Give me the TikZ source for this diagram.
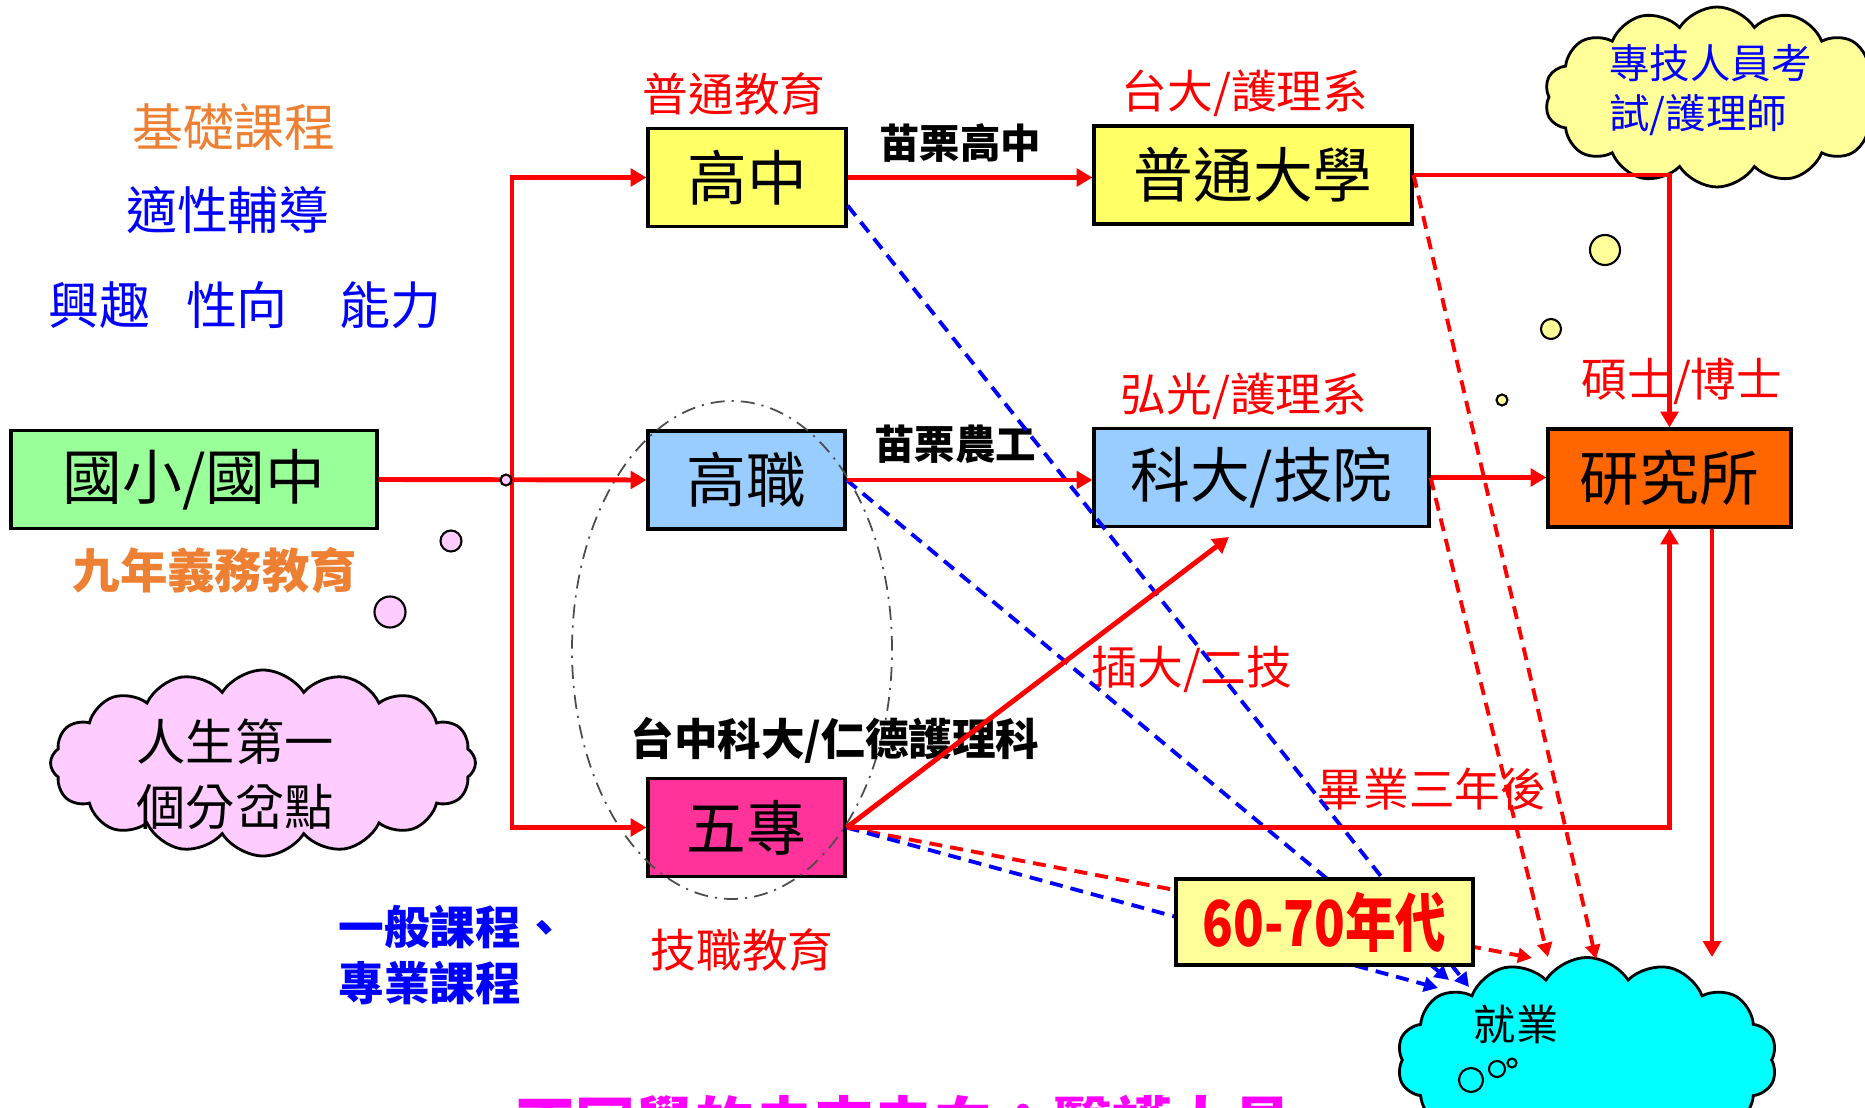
\documentclass[tikz,border=0pt]{standalone}
\usepackage{fontspec}
\usepackage{graphicx}
\setmainfont{Noto Sans CJK TC}
\usetikzlibrary{arrows.meta,shapes.geometric,shapes.symbols,calc}
\definecolor{boxyellow}{HTML}{FFFF66}
\definecolor{paleyellow}{HTML}{FFFF99}
\definecolor{boxblue}{HTML}{99CCFF}
\definecolor{boxgreen}{HTML}{99FF99}
\definecolor{boxpink}{HTML}{FF3399}
\definecolor{boxorange}{HTML}{FF6600}
\definecolor{cloudpink}{HTML}{FFCCFF}
\definecolor{cloudcyan}{HTML}{00FFFF}
\definecolor{txtorange}{HTML}{EE8033}
\definecolor{txtmagenta}{HTML}{FF00FF}
\newcommand{\fsz}[2]{\fontsize{#1}{#2}\selectfont}

\begin{document}
\begin{tikzpicture}[x=0.1mm, y=-0.1mm,
  box/.style={draw=black, line width=0.9pt, minimum width=#1, minimum height=9.8mm, inner sep=0pt, font=\fsz{17pt}{20pt}},
  redarr/.style={draw=red, line width=1.4pt, -{Triangle[length=4.5pt,width=5pt]}},
  reddash/.style={draw=red, line width=1.1pt, dash pattern=on 3.7pt off 2.3pt, -{Triangle[length=4pt,width=4.2pt]}},
  bluedash/.style={reddash, draw=blue},
  redlabel/.style={text=red, font=\fsz{13pt}{15pt}},
  blacklabel/.style={font=\bfseries\fsz{11.5pt}{13pt}},
  bubble/.style={draw=black, line width=0.6pt, circle, inner sep=0pt},
  puffy/.style={cloud, cloud puffs=#1, cloud puff arc=115, cloud ignores aspect, draw=black, line width=0.8pt}]
  \clip (0,0) rectangle (1865,1108);

  \node[puffy=16, fill=cloudpink, minimum width=42.5mm, minimum height=18.6mm] (lifecloud) at (263,763) {};
  \node[puffy=14, fill=paleyellow, minimum width=34.5mm, minimum height=18mm] (examcloud) at (1717,97) {};
  \node[puffy=14, fill=cloudcyan, minimum width=38mm, minimum height=20.5mm] (jobcloud) at (1587,1060) {};

  \node[bubble, fill=cloudpink, minimum size=2.1mm] (pb1) at (451,541) {};
  \node[bubble, fill=cloudpink, minimum size=3.1mm] (pb2) at (390,612) {};
  \node[bubble, fill=paleyellow, minimum size=3mm] (yb1) at (1605,250) {};
  \node[bubble, fill=paleyellow, minimum size=2mm] (yb2) at (1551,329) {};
  \node[bubble, fill=paleyellow, minimum size=1.1mm] (yb3) at (1502,400) {};
  \node[bubble, fill=cloudcyan, minimum size=2.4mm] (cb1) at (1471,1080) {};
  \node[bubble, fill=cloudcyan, minimum size=1.6mm] (cb2) at (1497,1069) {};
  \node[bubble, fill=cloudcyan, minimum size=0.9mm] (cb3) at (1512,1063) {};

  \node[box=36.6mm, fill=boxgreen] (guozhong) at (194,479.5) {國小/國中};
  \node[box=19.8mm, fill=boxyellow] (gaozhong) at (747,177.5) {高中};
  \node[box=19.7mm, fill=boxblue] (gaozhi) at (746.5,480) {高職};
  \node[box=19.7mm, fill=boxpink] (wuzhuan) at (746.5,827.5) {五專};
  \node[box=31.8mm, fill=boxyellow] (daxue) at (1253,175) {普通大學};
  \node[box=33.5mm, fill=boxblue] (keda) at (1261.5,477.5) {科大/技院};
  \node[box=24.3mm, fill=boxorange] (yanjiu) at (1669.5,478) {研究所};

  \node[ellipse, draw=gray!60!black, line width=0.5pt, dash pattern=on 4pt off 2pt on 0.6pt off 2pt, minimum width=32mm, minimum height=49.8mm] (jizhioval) at (732,650) {};

  \node[text=txtorange, font=\fsz{14.5pt}{17pt}] (jichu) at (234,127) {基礎課程};
  \node[text=blue, font=\fsz{14.5pt}{17pt}] (fudao) at (228,210) {適性輔導};
  \node[text=blue, font=\fsz{14.5pt}{17pt}] (xingqu) at (245,305) {興趣\hspace{3.6mm}性向\hspace{5.2mm}能力};
  \node[text=txtorange, font=\bfseries\fsz{13.5pt}{16pt}] (yiwu) at (215,570) {九年義務教育};
  \node[font=\fsz{14pt}{18.5pt}, align=left] (fencha) at (235,774) {人生第一\\個分岔點};
  \node[text=blue, font=\fsz{11.5pt}{14.2pt}, align=left, anchor=west] (zhuanji) at (1597,90) {專技人員考\\試/護理師};
  \node[font=\fsz{12pt}{14pt}] (jiuye) at (1516,1024) {就業};
  \node[text=blue, font=\bfseries\fsz{13pt}{16.2pt}, align=left, anchor=west] (kecheng) at (326,955) {一般課程、\\專業課程};

  \node[redlabel] (putong) at (734,94) {普通教育};
  \node[redlabel] (taida) at (1245,93) {台大/護理系};
  \node[redlabel] (hongguang) at (1244,396) {弘光/護理系};
  \node[redlabel] (shuoshi) at (1682,381) {碩士/博士};
  \node[redlabel] (chadalbl) at (1192,669) {插大/二技};
  \node[redlabel] (biye) at (1432,789) {畢業三年後};
  \node[redlabel] (jizhi) at (742,950) {技職教育};
  \node[blacklabel] (miaoli) at (960,143) {苗栗高中};
  \node[blacklabel] (nonggong) at (955,444) {苗栗農工};
  \node[blacklabel, font=\bfseries\fsz{12.4pt}{15pt}] (taizhong) at (835,740) {台中科大/仁德護理科};

  \coordinate (split) at (512,480);
  \coordinate (chada) at (1229,537);
  \coordinate (jy1) at (1438,988);
  \coordinate (jy2) at (1449,980);
  \coordinate (jy3) at (1469,987);
  \coordinate (jy4) at (1532,958);
  \coordinate (jy5) at (1548,957);
  \coordinate (jy6) at (1596,959);
  \coordinate (jy7) at (1712,957);

  \draw[reddash] (daxue.east) -- (jy6);
  \draw[reddash] (keda.east) -- (jy5);
  \draw[reddash] (wuzhuan.east) -- (jy4);
  \draw[bluedash] ($(gaozhong.east)+(0,28)$) -- (jy3);
  \draw[bluedash] (gaozhi.east) -- (jy2);
  \draw[bluedash] (wuzhuan.east) -- (jy1);

  \draw[redarr] (guozhong.east) -- (gaozhi.west);
  \draw[redarr] (split) |- (gaozhong.west);
  \draw[redarr] (split) |- (wuzhuan.west);
  \draw[redarr] (gaozhong.east) -- (gaozhong.east -| daxue.west);
  \draw[redarr] (gaozhi.east) -- (gaozhi.east -| keda.west);
  \draw[redarr] (daxue.east) -| (yanjiu.north);
  \draw[redarr] (keda.east) -- (keda.east -| yanjiu.west);
  \draw[redarr] (wuzhuan.east) -| (yanjiu.south);
  \draw[redarr] (wuzhuan.east) -- (chada);
  \draw[redarr] (jy7 |- yanjiu.south) -- (jy7);
  \node[bubble, fill=cloudpink, minimum size=1.1mm] (junction) at (506,480) {};

  \node[box=29.7mm, fill=paleyellow, minimum height=8.6mm, text=red] (niandai) at (1324.5,922) {\scalebox{0.8}[1]{\bfseries\fsz{18pt}{20pt}60-70年代}};

  \node[text=txtmagenta, font=\bfseries\fsz{17pt}{20pt}, anchor=west] (weilai) at (503,1124) {不同學的未來去向：醫護人員};
\end{tikzpicture}
\end{document}
